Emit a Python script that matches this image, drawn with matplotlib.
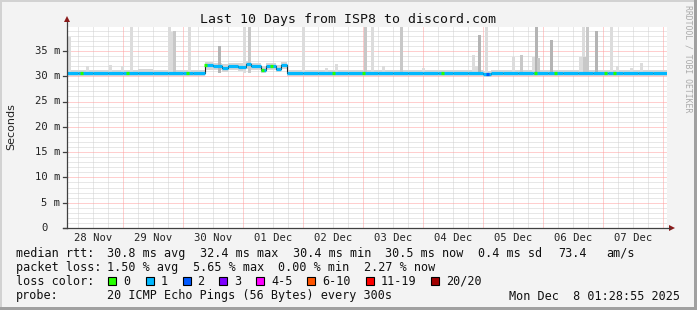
import matplotlib
matplotlib.use("Agg")
import numpy as np
from matplotlib import pyplot as plt
from matplotlib.patches import Rectangle, Polygon

W, H = 697, 310

# median rtt in ms, step knots (hours since 28 Nov 00:00)
med_hours = [1.48, 6, 12, 18, 24, 30, 36, 42, 48, 52, 56.5, 60, 63.5, 66, 70, 73, 75, 79, 81, 85, 87,
             89.6, 96, 102, 108, 114, 120, 126, 132, 138, 144, 150, 156, 162, 168, 171, 176, 182,
             188, 194, 200, 206, 212, 218, 224, 230, 236]
med_ms = [30.7, 30.6, 30.7, 30.7, 30.6, 30.7, 30.6, 30.7, 30.6, 30.7, 32.2, 32.0, 31.6, 32.0, 31.9,
          32.4, 32.0, 31.3, 32.0, 31.5, 32.3,
          30.6, 30.7, 30.6, 30.7, 30.6, 30.7, 30.6, 30.7, 30.6, 30.7, 30.6, 30.7, 30.7, 30.4, 30.7,
          30.6, 30.7, 30.6, 30.7, 30.6, 30.7, 30.6, 30.7, 30.6, 30.7, 30.6]
smoke_lo = [30.1, 30.0, 30.1, 30.1, 30.0, 30.1, 30.0, 30.1, 30.0, 30.1, 31.3, 31.2, 30.9, 31.2, 31.1,
            31.5, 31.2, 30.7, 31.2, 30.8, 31.4,
            30.0, 30.1, 30.0, 30.1, 30.0, 30.1, 30.0, 30.1, 30.0, 30.1, 30.0, 30.1, 30.1, 29.8, 30.1,
            30.0, 30.1, 30.0, 30.1, 30.0, 30.1, 30.0, 30.1, 30.0, 30.1, 30.0]
smoke_hi = [31.3, 31.2, 31.3, 31.3, 31.2, 31.4, 31.2, 31.3, 31.2, 31.3, 32.9, 32.7, 32.4, 32.7, 32.6,
            33.0, 32.7, 32.1, 32.7, 32.3, 32.9,
            31.2, 31.3, 31.2, 31.3, 31.2, 31.3, 31.2, 31.3, 31.2, 31.3, 31.2, 31.3, 31.3, 31.1, 31.3,
            31.2, 31.3, 31.2, 31.3, 31.2, 31.3, 31.2, 31.3, 31.2, 31.3, 31.2]
end_hour = 241.48

# loss per step is 1/20 except at these points
loss_hours = [7.2, 25.6, 49.6, 56.8, 79.6, 83.3, 108.1, 120.1, 151.6, 169.6, 189.0, 197.0, 217.0, 220.6]
loss_count = [0, 0, 0, 0, 0, 0, 0, 0, 0, 2, 0, 0, 0, 0]

# smoke spikes: hour, highest ping (ms), density 1..3
spike_hours = [2.3, 9.6, 18.9, 23.6, 27.3, 42.3, 43.3, 44.3, 50.6, 62.3, 72.3, 74.6, 96.2, 105.3,
               109.4, 121.0, 123.5, 128.2, 135.3, 144.0, 164.2, 165.2, 166.5, 169.3, 180.2, 183.3,
               188.2, 189.3, 190.2, 195.3, 207.0, 207.9, 208.6, 209.7, 213.3, 219.3, 221.6, 227.3,
               231.3]
spike_top = [37.7, 32.0, 32.3, 32.0, 39.7, 39.7, 38.8, 39.0, 39.7, 36.0, 39.7, 39.7, 39.7, 31.6,
             32.5, 39.7, 39.7, 32.0, 39.7, 31.6, 34.1, 32.0, 38.1, 39.7, 33.8, 34.2,
             33.8, 39.7, 33.6, 37.1, 33.8, 39.7, 33.8, 39.7, 39.0, 39.7, 32.0, 31.6, 32.6]
spike_density = [1, 1, 1, 1, 1, 1, 1, 2, 1, 3, 1, 2, 1, 1,
                 1, 2, 1, 1, 2, 1, 1, 1, 3, 1, 1, 2,
                 1, 3, 2, 3, 1, 1, 2, 2, 3, 1, 1, 1, 1]

day_labels = ["28 Nov", "29 Nov", "30 Nov", "01 Dec", "02 Dec", "03 Dec", "04 Dec", "05 Dec", "06 Dec", "07 Dec"]
ytick_ms = [0, 5, 10, 15, 20, 25, 30, 35]
ytick_labels = ["0", "5 m", "10 m", "15 m", "20 m", "25 m", "30 m", "35 m"]

loss_names = ["0", "1", "2", "3", "4-5", "6-10", "11-19", "20/20"]
loss_colors = ["#26ff00", "#00b8ff", "#0059ff", "#7e00ff", "#ff00ff", "#ff5500", "#ff0000", "#a10000"]
rtt_stats = ["30.8 ms avg", "32.4 ms max", "30.4 ms min", "30.5 ms now", "0.4 ms sd", "73.4", "am/s"]
loss_stats = ["1.50 % avg", "5.65 % max", "0.00 % min", "2.27 % now"]

shade = {1: "#dcdcdc", 2: "#c8c8c8", 3: "#b4b4b4"}
MONO = "DejaVu Sans Mono"
plt.rcParams["font.family"] = MONO


def fx(x):
    return x / W


def fy(y):
    return 1 - y / H


fig = plt.figure(figsize=(W / 100, H / 100), dpi=100, facecolor="#f3f3f3")

# frame border
fig.add_artist(Rectangle((0, fy(2)), 1, 2 / H, transform=fig.transFigure, color="#d2d2d2", lw=0))
fig.add_artist(Rectangle((0, 0), 2 / W, 1, transform=fig.transFigure, color="#d2d2d2", lw=0))
fig.add_artist(Rectangle((0, 0), 1, 3 / H, transform=fig.transFigure, color="#a0a0a0", lw=0))
fig.add_artist(Rectangle((fx(694), 0), 3 / W, 1, transform=fig.transFigure, color="#a0a0a0", lw=0))

ax = fig.add_axes([fx(67), fy(228), 600 / W, 201 / H])
ax.set_facecolor("white")
ax.set_xlim(1.48, end_hour)
ax.set_ylim(0, 201 / 5.06)
for s in ax.spines.values():
    s.set_visible(False)

dot = (0, (1, 1))
# minor grid
for h in range(6, 241, 6):
    if h % 24:
        ax.axvline(h, color="#d0d0d0", lw=0.72, ls=dot, zorder=0)
for m in range(1, 40):
    if m % 5:
        ax.axhline(m, color="#d0d0d0", lw=0.72, ls=dot, zorder=0)
# major grid
for h in range(24, 241, 24):
    ax.axvline(h, color="#ff9e9e", lw=0.72, ls=dot, zorder=0.5)
for m in range(5, 40, 5):
    ax.axhline(m, color="#ff9e9e", lw=0.72, ls=dot, zorder=0.5)

# smoke
hx = med_hours + [end_hour]
ax.fill_between(hx, smoke_lo + [smoke_lo[-1]], smoke_hi + [smoke_hi[-1]], step="post",
                color="#d6d6d6", lw=0, zorder=1)
for h, top, d in zip(spike_hours, spike_top, spike_density):
    ax.bar(h, top - 30.6, bottom=30.6, width=1.2, color=shade[d], lw=0, zorder=1)

# median line
ax.step(hx, med_ms + [med_ms[-1]], where="post", color="#202020", lw=0.8, zorder=2)
for i in range(len(med_ms)):
    ax.hlines(med_ms[i], hx[i], hx[i + 1], color=loss_colors[1], lw=2.3, zorder=3)
for h, c in zip(loss_hours, loss_count):
    v = med_ms[np.searchsorted(med_hours, h, side="right") - 1]
    ax.hlines(v, h - 0.55, h + 0.55, color=loss_colors[min(c, 7)], lw=2.3, zorder=4)

ax.set_xticks([])
ax.set_yticks([])

# axes lines and arrows
ax_col = "#404040"
fig.add_artist(plt.Line2D([fx(67), fx(67)], [fy(228), fy(22)], transform=fig.transFigure, color=ax_col, lw=0.9))
fig.add_artist(plt.Line2D([fx(63), fx(670)], [fy(228), fy(228)], transform=fig.transFigure, color=ax_col, lw=0.9))
fig.add_artist(Polygon([(fx(64), fy(22)), (fx(70), fy(22)), (fx(67), fy(16))], closed=True,
                       transform=fig.transFigure, color="#8b1a1a", lw=0))
fig.add_artist(Polygon([(fx(669), fy(225)), (fx(669), fy(231)), (fx(675), fy(228))], closed=True,
                       transform=fig.transFigure, color="#8b1a1a", lw=0))
for m, lab in zip(ytick_ms, ytick_labels):
    yp = 228 - m * 5.06
    fig.add_artist(plt.Line2D([fx(63), fx(67)], [fy(yp), fy(yp)], transform=fig.transFigure,
                              color=ax_col, lw=0.9))
    xr = 60.5 if lab != "0" else 47.5
    fig.text(fx(xr), fy(yp), lab, ha="right", va="center", fontsize=7.6, color="#222222")

for k, lab in enumerate(day_labels):
    xp = 67 + 2.5 * (12 + 24 * k - 1.48)
    fig.text(fx(xp), fy(238), lab, ha="center", va="center", fontsize=7.6, color="#222222")

fig.text(fx(348), fy(19), "Last 10 Days from ISP8 to discord.com", ha="center", va="center",
         fontsize=9.5, color="#111111")
fig.text(fx(11), fy(127), "Seconds", rotation=90, ha="center", va="center", fontsize=8,
         family="DejaVu Sans", color="#222222")
fig.text(fx(688), fy(5), "RRDTOOL / TOBI OETIKER", rotation=-90, ha="center", va="top",
         fontsize=5.9, color="#aaaaaa")

fs = 8.45
tc = "#111111"
fig.text(fx(16), fy(253.5), "median rtt:", ha="left", va="center", fontsize=fs, color=tc)
for s, xp in zip(rtt_stats, [107.3, 200, 292.7, 385, 478, 558.3, 606.7]):
    fig.text(fx(xp), fy(253.5), s, ha="left", va="center", fontsize=fs, color=tc)
fig.text(fx(16), fy(267.7), "packet loss:", ha="left", va="center", fontsize=fs, color=tc)
for s, xp in zip(loss_stats, [107.3, 193, 278.5, 364]):
    fig.text(fx(xp), fy(267.7), s, ha="left", va="center", fontsize=fs, color=tc)
fig.text(fx(16), fy(281.5), "loss color:", ha="left", va="center", fontsize=fs, color=tc)
for s, c, xp in zip(loss_names, loss_colors, [107.8, 145.7, 182.5, 219.3, 255.9, 307.3, 365.7, 430.7]):
    fig.add_artist(Rectangle((fx(xp), fy(285.3)), 8 / W, 8 / H, transform=fig.transFigure,
                             facecolor=c, edgecolor="black", lw=0.8))
    fig.text(fx(xp + 15), fy(281.5), s, ha="left", va="center", fontsize=fs, color=tc)
fig.text(fx(16), fy(296), "probe:", ha="left", va="center", fontsize=fs, color=tc)
fig.text(fx(107.3), fy(296), "20 ICMP Echo Pings (56 Bytes) every 300s", ha="left", va="center",
         fontsize=fs, color=tc)
fig.text(fx(680), fy(296), "Mon Dec  8 01:28:55 2025", ha="right", va="center", fontsize=fs, color=tc)

fig.savefig("out.png", dpi=100, facecolor=fig.get_facecolor())
